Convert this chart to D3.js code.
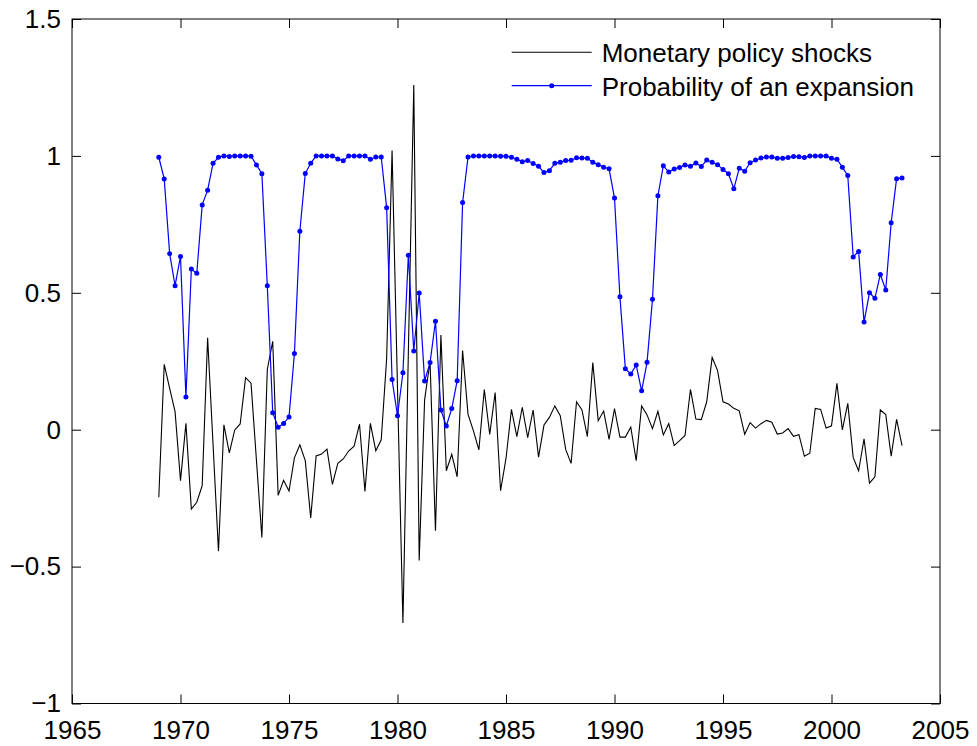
<!DOCTYPE html>
<html>
<head>
<meta charset="utf-8">
<script src="https://cdn.jsdelivr.net/npm/d3@7"></script>
<style>
  html, body { margin: 0; padding: 0; background: #fff; }
  svg { display: block; font-family: "Liberation Sans", Arial, Helvetica, sans-serif; }
</style>
</head>
<body>
<svg id="chart" width="977" height="746"></svg>
<script>
// Quarterly observations, 1969Q1 to 2003Q2
const startYear = 1969;
const quarterCount = 138;
const quarters = d3.range(quarterCount).map(i => startYear + i / 4);

// Identified monetary policy shocks
const shocks = [
  -0.247, 0.239, 0.151, 0.066, -0.186, 0.023, -0.290, -0.265, -0.204, 0.336,
  -0.054, -0.444, 0.018, -0.085, -0.001, 0.021, 0.190, 0.170, -0.112, -0.394,
  0.220, 0.323, -0.240, -0.185, -0.224, -0.103, -0.055, -0.113, -0.322, -0.096,
  -0.089, -0.071, -0.200, -0.123, -0.107, -0.078, -0.060, 0.020, -0.226, 0.023,
  -0.077, -0.037, 0.260, 1.020, 0.150, -0.706, 0.280, 1.259, -0.478, 0.110,
  0.249, -0.369, 0.346, -0.150, -0.090, -0.172, 0.289, 0.056, -0.004, -0.074,
  0.147, -0.017, 0.136, -0.223, -0.105, 0.074, -0.025, 0.082, -0.029, 0.072,
  -0.100, 0.017, 0.045, 0.087, 0.051, -0.072, -0.123, 0.102, 0.072, -0.025,
  0.245, 0.033, 0.068, -0.035, 0.077, -0.027, -0.027, 0.009, -0.113, 0.087,
  0.054, 0.004, 0.067, -0.019, 0.022, -0.058, -0.040, -0.021, 0.147, 0.039,
  0.037, 0.102, 0.264, 0.216, 0.102, 0.094, 0.078, 0.069, -0.017, 0.026,
  0.006, 0.022, 0.034, 0.027, -0.016, -0.012, 0.004, -0.024, -0.018, -0.097,
  -0.086, 0.078, 0.074, 0.006, 0.014, 0.169, -0.001, 0.096, -0.102, -0.150,
  -0.033, -0.195, -0.172, 0.072, 0.055, -0.097, 0.038, -0.058
];

// Smoothed probability of being in an expansion regime
const expansionProb = [
  0.995, 0.916, 0.643, 0.526, 0.633, 0.119, 0.587, 0.571, 0.821, 0.875,
  0.973, 0.995, 1.000, 0.998, 1.000, 1.000, 1.000, 0.999, 0.967, 0.935,
  0.526, 0.062, 0.009, 0.023, 0.046, 0.278, 0.725, 0.936, 0.973, 1.000,
  1.000, 1.000, 1.000, 0.989, 0.982, 1.000, 1.000, 1.000, 1.000, 0.988,
  0.996, 0.996, 0.811, 0.183, 0.051, 0.208, 0.637, 0.287, 0.499, 0.178,
  0.245, 0.396, 0.072, 0.0135, 0.077, 0.179, 0.830, 0.996, 1.000, 1.000,
  1.000, 1.000, 1.000, 0.999, 0.999, 0.995, 0.988, 0.979, 0.983, 0.972,
  0.962, 0.939, 0.946, 0.973, 0.977, 0.983, 0.984, 0.993, 0.992, 0.991,
  0.977, 0.968, 0.959, 0.953, 0.846, 0.486, 0.223, 0.203, 0.236, 0.142,
  0.246, 0.476, 0.854, 0.964, 0.941, 0.952, 0.958, 0.967, 0.962, 0.974,
  0.961, 0.985, 0.977, 0.968, 0.950, 0.935, 0.880, 0.955, 0.944, 0.975,
  0.985, 0.992, 0.996, 0.996, 0.991, 0.991, 0.994, 0.998, 0.997, 0.994,
  1.000, 1.000, 1.000, 1.000, 0.991, 0.988, 0.959, 0.928, 0.631, 0.651,
  0.393, 0.500, 0.480, 0.567, 0.510, 0.756, 0.917, 0.919
];

// Axis ticks and labels
const xTicks = [1965, 1970, 1975, 1980, 1985, 1990, 1995, 2000, 2005];
const yTicks = [-1, -0.5, 0, 0.5, 1, 1.5];
const yTickLabels = ["\u22121", "\u22120.5", "0", "0.5", "1", "1.5"];

const seriesNames = ["Monetary policy shocks", "Probability of an expansion"];

(function draw() {
  const svg = d3.select("#chart");
  const plotLeft = 72, plotRight = 940, plotTop = 19, plotBottom = 703.5;
  const fontSize = 26;
  const tickLen = 9;
  const fontStack = "\"Liberation Sans\", Arial, Helvetica, sans-serif";

  const x = d3.scaleLinear().domain([1965, 2005]).range([plotLeft, plotRight]);
  const y = d3.scaleLinear().domain([-1, 1.5]).range([plotBottom, plotTop]);

  svg.append("rect").attr("width", 977).attr("height", 746).attr("fill", "#fff");

  // Axes: inward ticks on all four sides
  function styleAxis(g) {
    g.select(".domain").remove();
    g.selectAll(".tick line").attr("stroke", "#000").attr("stroke-width", 1);
    g.selectAll(".tick text").attr("fill", "#000").attr("font-size", fontSize)
      .attr("font-family", fontStack);
  }

  svg.append("g").attr("transform", `translate(0,${plotBottom})`)
    .call(d3.axisBottom(x).tickValues(xTicks).tickFormat(d3.format("d"))
      .tickSizeInner(-tickLen).tickSizeOuter(0).tickPadding(17.5))
    .call(styleAxis);

  svg.append("g").attr("transform", `translate(0,${plotTop})`)
    .call(d3.axisTop(x).tickValues(xTicks).tickFormat("")
      .tickSizeInner(-tickLen).tickSizeOuter(0))
    .call(styleAxis);

  svg.append("g").attr("transform", `translate(${plotLeft},0)`)
    .call(d3.axisLeft(y).tickValues(yTicks).tickFormat((d, i) => yTickLabels[i])
      .tickSizeInner(-tickLen).tickSizeOuter(0).tickPadding(11))
    .call(styleAxis);

  svg.append("g").attr("transform", `translate(${plotRight},0)`)
    .call(d3.axisRight(y).tickValues(yTicks).tickFormat("")
      .tickSizeInner(-tickLen).tickSizeOuter(0))
    .call(styleAxis);

  // Plot box
  svg.append("rect")
    .attr("x", plotLeft).attr("y", plotTop)
    .attr("width", plotRight - plotLeft).attr("height", plotBottom - plotTop)
    .attr("fill", "none").attr("stroke", "#000").attr("stroke-width", 1);

  // Monetary policy shocks
  const shockLine = d3.line().x((d, i) => x(quarters[i])).y(d => y(d));
  svg.append("path").datum(shocks)
    .attr("d", shockLine)
    .attr("fill", "none").attr("stroke", "#000").attr("stroke-width", 1.1);

  // Probability of an expansion with point markers
  const probLine = d3.line().x((d, i) => x(quarters[i])).y(d => y(d));
  svg.append("path").datum(expansionProb)
    .attr("d", probLine)
    .attr("fill", "none").attr("stroke", "#0000ff").attr("stroke-width", 1.2);
  svg.append("g").selectAll("circle").data(expansionProb).join("circle")
    .attr("cx", (d, i) => x(quarters[i]))
    .attr("cy", d => y(d))
    .attr("r", 2.5)
    .attr("fill", "#0000ff");

  // Legend
  const legend = svg.append("g");
  const legX0 = 511.7, legX1 = 591.7, legTextX = 601.7;
  const legRows = [52.3, 85.7];
  legend.append("line")
    .attr("x1", legX0).attr("x2", legX1).attr("y1", legRows[0]).attr("y2", legRows[0])
    .attr("stroke", "#000").attr("stroke-width", 1.1);
  legend.append("line")
    .attr("x1", legX0).attr("x2", legX1).attr("y1", legRows[1]).attr("y2", legRows[1])
    .attr("stroke", "#0000ff").attr("stroke-width", 1.2);
  legend.append("circle")
    .attr("cx", (legX0 + legX1) / 2).attr("cy", legRows[1]).attr("r", 2.5)
    .attr("fill", "#0000ff");
  legend.selectAll("text").data(seriesNames).join("text")
    .attr("x", legTextX)
    .attr("y", (d, i) => legRows[i] + 9.8)
    .attr("font-size", fontSize)
    .attr("font-family", fontStack)
    .attr("fill", "#000")
    .text(d => d);
})();
</script>
</body>
</html>
